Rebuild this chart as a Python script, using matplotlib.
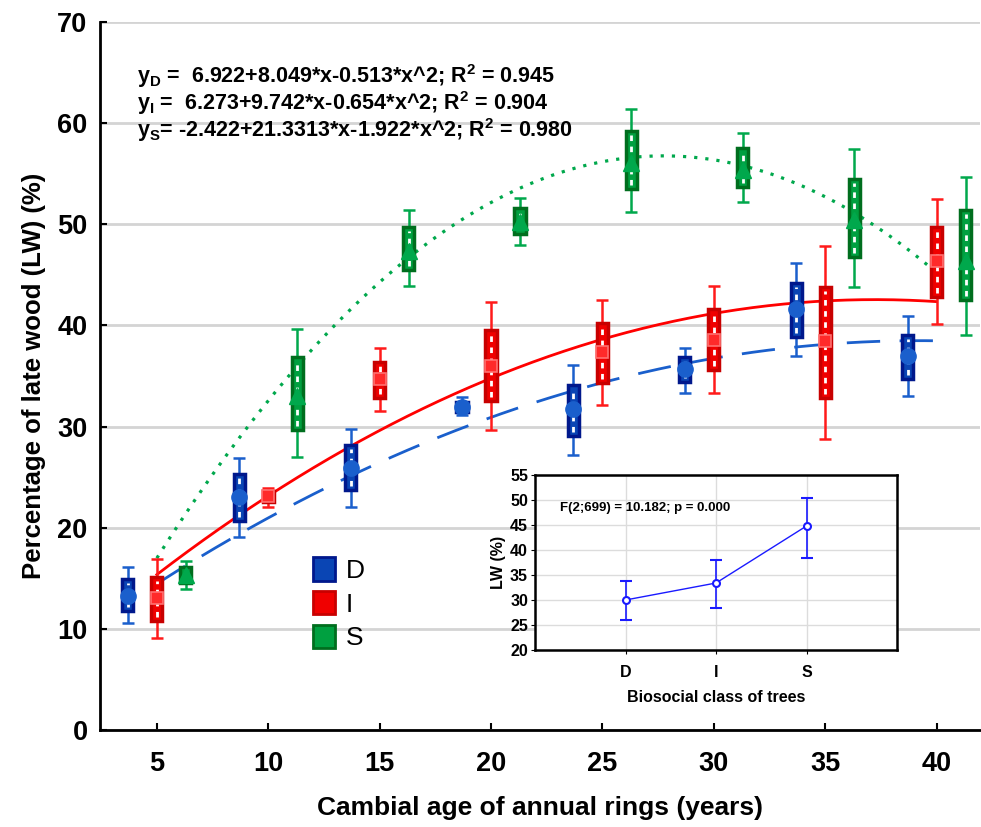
import numpy as np
import matplotlib
matplotlib.use("Agg")
import matplotlib.pyplot as plt
from matplotlib.patches import Patch

plt.rcParams['font.family'] = ['Liberation Sans', 'DejaVu Sans']
plt.rcParams['mathtext.fontset'] = 'custom'
plt.rcParams['mathtext.rm'] = 'Liberation Sans'
plt.rcParams['mathtext.bf'] = 'Liberation Sans:bold'

# cambial age groups (years)
ages = np.array([5, 10, 15, 20, 25, 30, 35, 40])

# D - dominant
D_mean = [13.2, 23.0, 25.9, 31.9, 31.7, 35.7, 41.6, 37.0]
D_box_lo = [11.8, 20.7, 23.7, 31.4, 29.1, 34.4, 38.9, 34.7]
D_box_hi = [14.9, 25.3, 28.2, 32.4, 34.1, 36.9, 44.2, 39.1]
D_wh_lo = [10.6, 19.1, 22.0, 31.1, 27.2, 33.3, 37.0, 33.0]
D_wh_hi = [16.1, 26.9, 29.8, 32.9, 36.1, 37.8, 46.2, 40.9]

# I - intermediate
I_mean = [13.1, 23.1, 34.7, 36.0, 37.4, 38.6, 38.5, 46.4]
I_box_lo = [10.8, 22.5, 32.8, 32.5, 34.3, 35.6, 32.8, 42.8]
I_box_hi = [15.1, 23.6, 36.4, 39.5, 40.2, 41.6, 43.8, 49.7]
I_wh_lo = [9.1, 22.0, 31.5, 29.7, 32.1, 33.3, 28.8, 40.1]
I_wh_hi = [16.9, 23.9, 37.8, 42.3, 42.5, 43.9, 47.9, 52.5]

# S - suppressed
S_mean = [15.3, 33.0, 47.4, 50.2, 56.1, 55.4, 50.4, 46.4]
S_box_lo = [14.5, 29.7, 45.5, 49.0, 53.5, 53.7, 46.8, 42.5]
S_box_hi = [16.1, 36.9, 49.7, 51.6, 59.2, 57.5, 54.5, 51.4]
S_wh_lo = [13.9, 27.0, 43.9, 48.0, 51.2, 52.2, 43.8, 39.1]
S_wh_hi = [16.7, 39.6, 51.4, 52.6, 61.4, 59.0, 57.4, 54.7]

# quadratic fits (x = age class 1..8)
coef_D = [6.922, 8.049, -0.513]
coef_I = [6.273, 9.742, -0.654]
coef_S = [-2.422, 21.3313, -1.922]

# inset: means and confidence intervals by class
classes = ['D', 'I', 'S']
cls_mean = [30.0, 33.4, 44.8]
cls_lo = [26.0, 28.5, 38.5]
cls_hi = [33.8, 38.1, 50.4]

fig = plt.figure(figsize=(9.81, 8.27), dpi=100)
ax = fig.add_axes([100 / 981, 1 - 730 / 827, 880 / 981, (730 - 22) / 827])

groups = [
    ('D', -1.3, D_mean, D_box_lo, D_box_hi, D_wh_lo, D_wh_hi,
     '#1a5fcc', '#00188c', '#0a45b4', 'o', 11),
    ('I', 0.0, I_mean, I_box_lo, I_box_hi, I_wh_lo, I_wh_hi,
     '#ff1a1a', '#c80000', '#f00000', 's', 8),
    ('S', 1.3, S_mean, S_box_lo, S_box_hi, S_wh_lo, S_wh_hi,
     '#00a84c', '#006e1e', '#00a040', '^', 11),
]

for name, off, mean, blo, bhi, wlo, whi, wcol, ecol, fcol, mk, ms in groups:
    x = ages + off
    mean = np.array(mean)
    ax.errorbar(x, mean, yerr=[mean - np.array(wlo), np.array(whi) - mean],
                fmt='none', ecolor=wcol, elinewidth=1.8, capsize=4, capthick=1.8, zorder=3)
    ax.bar(x, np.array(bhi) - np.array(blo), bottom=blo, width=0.5,
           color=fcol, edgecolor=ecol, linewidth=2.5, zorder=4)
    ax.vlines(x, np.array(blo) + 0.4, np.array(bhi) - 0.4, colors='white',
              linewidth=2, linestyles=(0, (2, 2)), zorder=5)
    if mk == 's':
        ax.plot(x, mean, mk, ms=ms, mfc='#ff2a2a', mec='#ff7070', mew=1.2, zorder=6)
    else:
        ax.plot(x, mean, mk, ms=ms, color=wcol, zorder=6)

xx = np.linspace(5, 40, 200)
xc = xx / 5
ax.plot(xx, coef_D[0] + coef_D[1] * xc + coef_D[2] * xc ** 2, color='#1a5fcc',
        lw=2, dashes=(12, 7), zorder=2)
ax.plot(xx, coef_I[0] + coef_I[1] * xc + coef_I[2] * xc ** 2, color='#ff0000',
        lw=2, zorder=2)
ax.plot(xx, coef_S[0] + coef_S[1] * xc + coef_S[2] * xc ** 2, color='#00a84c',
        lw=2.3, dashes=(1, 2.5), zorder=2)

ax.set_xlim(2.45, 41.95)
ax.set_ylim(0, 70)
ax.set_xticks(ages)
ax.set_yticks(range(0, 71, 10))
ax.grid(axis='y', color='#d4d4d4', lw=2)
ax.set_axisbelow(True)
for s in ['top', 'right']:
    ax.spines[s].set_visible(False)
for s in ['left', 'bottom']:
    ax.spines[s].set_linewidth(2)
ax.tick_params(direction='in', length=5, width=1.5)
ax.tick_params(axis='x', pad=15)
ax.tick_params(axis='y', pad=9)
for lab in ax.get_xticklabels() + ax.get_yticklabels():
    lab.set_fontsize(19.5)
    lab.set_fontweight('bold')
ax.set_xlabel('Cambial age of annual rings (years)', fontsize=19, fontweight='bold', labelpad=14)
ax.set_ylabel('Percentage of late wood (LW) (%)', fontsize=18.5, fontweight='bold', labelpad=8)

eqs = [
    r'$\mathbf{y_D}$ =  6.922+8.049*x-0.513*x^2; R$^\mathbf{2}$ = 0.945',
    r'$\mathbf{y_I}$ =  6.273+9.742*x-0.654*x^2; R$^\mathbf{2}$ = 0.904',
    r'$\mathbf{y_S}$= -2.422+21.3313*x-1.922*x^2; R$^\mathbf{2}$ = 0.980',
]
for i, t in enumerate(eqs):
    fig.text(137 / 981, 1 - (76 + 27 * i) / 827, t, fontsize=15.5,
             fontweight='bold', va='center', ha='left')

handles = [Patch(facecolor='#0a45b4', edgecolor='#00188c', lw=2),
           Patch(facecolor='#f00000', edgecolor='#c80000', lw=2),
           Patch(facecolor='#00a040', edgecolor='#006e1e', lw=2)]
ax.legend(handles, ['D', 'I', 'S'], loc='upper left',
          bbox_to_anchor=(313 / 981, 1 - 557 / 827), bbox_transform=fig.transFigure,
          frameon=False, fontsize=19, handlelength=0.85, handleheight=1.0,
          handletextpad=0.4, labelspacing=0.3, borderpad=0, borderaxespad=0)

# inset
axi = fig.add_axes([535 / 981, 1 - 650 / 827, 362 / 981, 175 / 827])
xi = np.arange(1, 4)
cm = np.array(cls_mean)
axi.errorbar(xi, cm, yerr=[cm - np.array(cls_lo), np.array(cls_hi) - cm],
             color='#1a1aff', lw=1, marker='o', ms=5, mfc='white', mew=1.5,
             capsize=4, elinewidth=1.2, zorder=3)
axi.set_xlim(0, 4)
axi.set_ylim(20, 55)
axi.set_xticks(xi)
axi.set_xticklabels(classes)
axi.set_yticks(range(20, 56, 5))
axi.grid(color='#dcdcdc', lw=1)
for s in axi.spines.values():
    s.set_linewidth(1.8)
axi.tick_params(labelsize=11.5, length=3, pad=2)
axi.tick_params(axis='x', pad=8)
for lab in axi.get_xticklabels() + axi.get_yticklabels():
    lab.set_fontweight('bold')
axi.set_xlabel('Biosocial class of trees', fontsize=11.5, fontweight='bold', labelpad=7)
axi.set_ylabel('LW (%)', fontsize=11.5, fontweight='bold', labelpad=3)
axi.text(0.28, 48.5, 'F(2;699) = 10.182; p = 0.000', fontsize=9.5,
         fontweight='bold', va='center', ha='left')

fig.savefig('out.png', dpi=100)
